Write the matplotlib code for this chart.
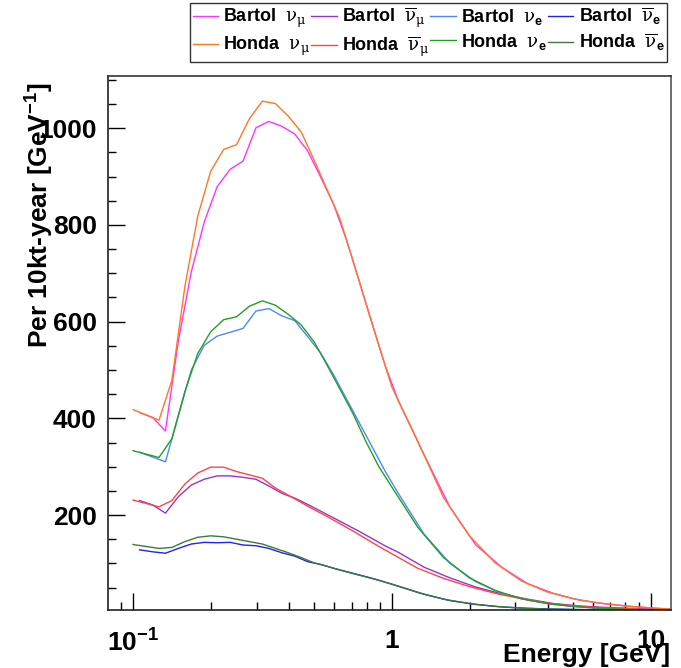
import numpy as np
import matplotlib
matplotlib.use("Agg")
import matplotlib.pyplot as plt
from matplotlib.ticker import FixedLocator, NullFormatter, MultipleLocator

plt.rcParams['font.family'] = ['Liberation Sans', 'DejaVu Sans']
plt.rcParams['mathtext.fontset'] = 'custom'
plt.rcParams['mathtext.rm'] = 'DejaVu Serif:weight=normal'
plt.rcParams['mathtext.it'] = 'DejaVu Serif:italic'
plt.rcParams['mathtext.bf'] = 'Liberation Sans:bold'

# energy grids [GeV]
e_honda = [0.1, 0.1122, 0.1259, 0.1413, 0.1585, 0.1778, 0.1995, 0.2239, 0.2512, 0.2818,
           0.3162, 0.3548, 0.3981, 0.4467, 0.5012, 0.5623, 0.6310, 0.7079, 0.7943, 0.8913,
           1.0, 1.259, 1.585, 1.995, 2.512, 3.162, 3.981, 5.012, 6.310, 7.943, 10.0, 12.0]
e_bartol = [0.1059, 0.1189, 0.1334, 0.1496, 0.1679, 0.1884, 0.2113, 0.2371, 0.2661, 0.2985,
            0.3350, 0.3758, 0.4217, 0.4732, 0.5309, 0.5957, 0.6683, 0.7499, 0.8414, 0.9441,
            1.059, 1.334, 1.679, 2.113, 2.661, 3.350, 4.217, 5.309, 6.683, 8.414, 10.59, 12.0]

# rates per 10kt-year [GeV^-1]
bartol_numu = [412, 402, 374, 560, 703, 806, 879, 915, 932, 1001,
               1014, 1004, 988, 953, 899, 843, 769, 682, 594, 508,
               437, 324, 216, 138, 92, 58, 38, 24, 16.5, 11, 7, 5.5]
bartol_numubar = [230, 221, 204, 238, 262, 274, 281, 281, 278, 274,
                  260, 245, 235, 222, 208, 194, 180, 166, 151, 136,
                  123, 92, 70, 51, 37, 26, 17, 12, 9, 7, 5, 4.5]
bartol_nue = [330, 320, 310, 405, 500, 551, 570, 578, 586, 622,
              627, 612, 602, 569, 535, 490, 440, 390, 340, 290,
              245, 160, 100, 62, 38, 24, 15, 10, 6.5, 5, 4, 3.5]
bartol_nuebar = [128, 124, 121, 131, 140, 143.5, 142.7, 143.5, 138, 136.5,
                 131, 122, 115, 103.5, 98, 90, 83, 76, 69, 61,
                 53, 36, 23, 15, 10, 7, 5.5, 4.5, 4, 3.8, 3.7, 3.6]
honda_numu = [418, 407, 396, 479, 672, 818, 911, 956, 966, 1020,
              1056, 1051, 1025, 992, 934, 873, 812, 726, 638, 551,
              465, 353, 236, 157, 101, 64, 41, 27, 18, 12, 8, 5.5]
honda_numubar = [231, 224, 217, 230, 264, 287, 299, 299, 290, 283,
                 276, 256, 241, 226, 211, 197, 182, 167, 151, 135,
                 120, 90, 69, 52, 38, 27, 18, 12, 8.5, 6.5, 5, 4]
honda_nue = [333, 326, 319, 358, 455, 534, 579, 604, 610, 632,
             643, 634, 615, 593, 558, 510, 460, 410, 352, 300,
             258, 175, 112, 70, 44, 27, 17, 11, 7, 5, 4, 3.5]
honda_nuebar = [139, 135, 131, 133, 145, 154, 157, 155, 150, 145,
                140, 131, 122, 112, 101, 94, 86, 79, 72, 65,
                57, 40, 26, 17, 11, 7.5, 5.5, 4.5, 4, 3.8, 3.7, 3.6]

lbl_numu = r"$\mathrm{\nu}_{\mathrm{\mu}}$"
lbl_numubar = r"$\overline{\mathrm{\nu}}_{\mathrm{\mu}}$"
lbl_nue = r"$\mathrm{\nu}_{\mathbf{e}}$"
lbl_nuebar = r"$\overline{\mathrm{\nu}}_{\mathbf{e}}$"

fig = plt.figure(figsize=(6.81, 6.68), dpi=100)
ax = fig.add_axes([108/681, 58/668, 563/681, 534/668])

h = {}
h['b_numu'], = ax.plot(e_bartol, bartol_numu, color='#ff33ff', lw=1.0, label="Bartol  " + lbl_numu)
h['b_numubar'], = ax.plot(e_bartol, bartol_numubar, color='#9933cc', lw=1.0, label="Bartol  " + lbl_numubar)
h['b_nue'], = ax.plot(e_bartol, bartol_nue, color='#4d88ff', lw=1.0, label="Bartol  " + lbl_nue)
h['b_nuebar'], = ax.plot(e_bartol, bartol_nuebar, color='#2222ee', lw=1.0, label="Bartol  " + lbl_nuebar)
h['h_numu'], = ax.plot(e_honda, honda_numu, color='#ff7722', lw=1.0, label="Honda  " + lbl_numu)
h['h_numubar'], = ax.plot(e_honda, honda_numubar, color='#ff4444', lw=1.0, label="Honda  " + lbl_numubar)
h['h_nue'], = ax.plot(e_honda, honda_nue, color='#22a022', lw=1.0, label="Honda  " + lbl_nue)
h['h_nuebar'], = ax.plot(e_honda, honda_nuebar, color='#3c7a3c', lw=1.0, label="Honda  " + lbl_nuebar)

ax.set_xscale('log')
ax.set_xlim(0.08, 12)
ax.set_ylim(3.6, 1108)

ax.xaxis.set_major_locator(FixedLocator([0.1, 1, 10]))
ax.set_xticklabels([r"10$^{\mathbf{-1}}$", "1", "10"])
ax.xaxis.set_minor_locator(FixedLocator([0.09] + [k * 0.1 for k in range(2, 10)] + list(range(2, 10))))
ax.xaxis.set_minor_formatter(NullFormatter())
ax.yaxis.set_major_locator(FixedLocator([200, 400, 600, 800, 1000]))
ax.yaxis.set_minor_locator(MultipleLocator(50))

ax.tick_params(axis='both', which='major', direction='in', length=12, width=1.0,
               labelsize=19, top=False, right=False)
ax.tick_params(axis='both', which='minor', direction='in', length=6, width=1.0,
               top=False, right=False)
ax.tick_params(axis='y', which='major', pad=8)
ax.tick_params(axis='x', which='major', pad=14)
for lab in ax.get_xticklabels() + ax.get_yticklabels():
    lab.set_fontweight('bold')
for s in ax.spines.values():
    s.set_linewidth(1.2)
    s.set_color('#222222')
ax.spines['right'].set_color('#555555')
ax.spines['top'].set_color('#333333')

fig.text(40/681, 1 - 82/668, r"Per 10kt-year [GeV$^{\mathbf{-1}}$]", rotation=90,
         ha='center', va='top', fontsize=19, fontweight='bold')
fig.text(670/681, 1 - 655/668, "Energy [GeV]", ha='right', va='center',
         fontsize=19, fontweight='bold')

order = ['b_numu', 'h_numu', 'b_numubar', 'h_numubar', 'b_nue', 'h_nue', 'b_nuebar', 'h_nuebar']
leg = fig.legend([h[k] for k in order], [h[k].get_label() for k in order],
                 loc='lower left', bbox_to_anchor=(190/681, 1 - 62/668, 477/681, 57/668),
                 mode='expand', ncol=4, prop={'weight': 'bold', 'size': 13},
                 frameon=True, fancybox=False, edgecolor='black', handlelength=1.4,
                 handletextpad=0.3, columnspacing=0.6, borderpad=0.15, labelspacing=0.25,
                 borderaxespad=0)
leg.get_frame().set_linewidth(1.0)

fig.savefig("out.png", dpi=100)
